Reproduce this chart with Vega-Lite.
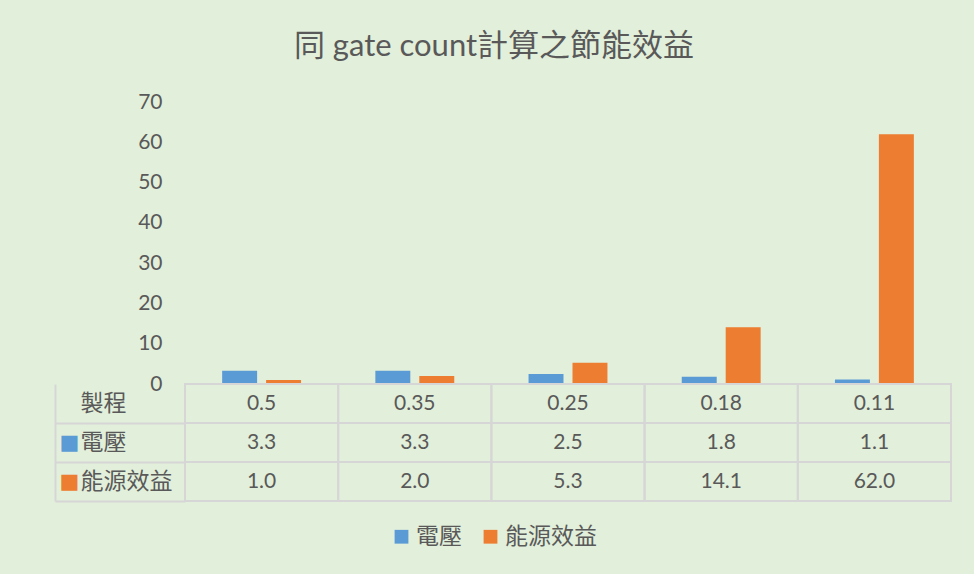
{
  "$schema": "https://vega.github.io/schema/vega-lite/v6.json",
  "background": "#E2EFDA",
  "padding": {"left": 54, "top": 31, "right": 22, "bottom": 26},
  "title": {
    "text": "同 gate count計算之節能效益",
    "font": "Lato, Noto Sans CJK TC",
    "fontSize": 31,
    "fontWeight": "normal",
    "color": "#595959",
    "anchor": "middle",
    "frame": "bounds",
    "offset": 28,
    "dx": -9
  },
  "datasets": {
    "t": [
      {"製程": "0.5", "系列": "電壓", "值": 3.3},
      {"製程": "0.5", "系列": "能源效益", "值": 1.0},
      {"製程": "0.35", "系列": "電壓", "值": 3.3},
      {"製程": "0.35", "系列": "能源效益", "值": 2.0},
      {"製程": "0.25", "系列": "電壓", "值": 2.5},
      {"製程": "0.25", "系列": "能源效益", "值": 5.3},
      {"製程": "0.18", "系列": "電壓", "值": 1.8},
      {"製程": "0.18", "系列": "能源效益", "值": 14.1},
      {"製程": "0.11", "系列": "電壓", "值": 1.1},
      {"製程": "0.11", "系列": "能源效益", "值": 62.0}
    ]
  },
  "data": {"name": "t"},
  "spacing": 0,
  "bounds": "flush",
  "vconcat": [
    {
      "width": 766,
      "height": 282,
      "mark": {"type": "bar"},
      "encoding": {
        "x": {
          "field": "製程",
          "type": "nominal",
          "scale": {"domain": ["0.5", "0.35", "0.25", "0.18", "0.11"], "paddingInner": 0.485, "paddingOuter": 0.2425},
          "axis": null
        },
        "xOffset": {
          "field": "系列",
          "type": "nominal",
          "scale": {"domain": ["電壓", "能源效益"], "paddingInner": 0.2045, "paddingOuter": 0}
        },
        "y": {
          "field": "值",
          "type": "quantitative",
          "scale": {"domain": [0, 70], "nice": false},
          "axis": {
            "values": [0, 10, 20, 30, 40, 50, 60, 70],
            "title": null,
            "domain": false,
            "ticks": false,
            "grid": false,
            "labelPadding": 23,
            "labelFont": "Lato",
            "labelFontSize": 21,
            "labelColor": "#595959"
          }
        },
        "color": {
          "field": "系列",
          "type": "nominal",
          "scale": {"domain": ["電壓", "能源效益"], "range": ["#5B9BD5", "#ED7D31"]},
          "legend": {
            "orient": "none",
            "legendX": 205,
            "legendY": 423,
            "direction": "horizontal",
            "title": null,
            "symbolType": "square",
            "symbolSize": 190,
            "symbolStrokeWidth": 0,
            "labelFont": "Noto Sans CJK TC",
            "labelFontSize": 23,
            "labelColor": "#595959",
            "labelOffset": 3,
            "columnPadding": 17
          }
        }
      }
    },
    {
      "width": 766,
      "height": 117,
      "resolve": {"scale": {"y": "independent"}},
      "encoding": {
        "x": {
          "field": "製程",
          "type": "nominal",
          "scale": {"domain": ["0.5", "0.35", "0.25", "0.18", "0.11"], "paddingInner": 0, "paddingOuter": 0},
          "axis": null
        }
      },
      "layer": [
        {
          "mark": {"type": "rect", "fillOpacity": 0, "stroke": "#D6D6D6", "strokeWidth": 2},
          "encoding": {
            "y": {
              "field": "系列",
              "type": "nominal",
              "scale": {"domain": ["製程", "電壓", "能源效益"], "paddingInner": 0, "paddingOuter": 0},
              "axis": {
                "orient": "left",
                "offset": 130,
                "title": null,
                "labels": false,
                "domain": true,
                "domainColor": "#D6D6D6",
                "domainWidth": 2,
                "ticks": true,
                "tickSize": -130,
                "tickColor": "#D6D6D6",
                "tickWidth": 2,
                "bandPosition": 1
              }
            }
          }
        },
        {
          "transform": [{"filter": "datum['系列'] === '電壓'"}],
          "mark": {"type": "rect", "fillOpacity": 0, "stroke": "#D6D6D6", "strokeWidth": 2},
          "encoding": {
            "y": {
              "datum": "製程",
              "type": "nominal",
              "scale": {"domain": ["製程", "電壓", "能源效益"], "paddingInner": 0, "paddingOuter": 0},
              "axis": null
            }
          }
        },
        {
          "mark": {"type": "text", "font": "Lato", "fontSize": 21, "color": "#595959", "baseline": "middle"},
          "encoding": {
            "y": {
              "field": "系列",
              "type": "nominal",
              "scale": {"domain": ["製程", "電壓", "能源效益"], "paddingInner": 0, "paddingOuter": 0},
              "axis": {
                "orient": "left",
                "title": null,
                "domain": false,
                "ticks": false,
                "labelAlign": "left",
                "labelPadding": 105,
                "labelFont": "Noto Sans CJK TC",
                "labelFontSize": 23,
                "labelColor": "#595959"
              }
            },
            "text": {"field": "值", "type": "quantitative", "format": ".1f"}
          }
        },
        {
          "transform": [{"filter": "datum['系列'] === '電壓'"}],
          "mark": {"type": "text", "font": "Lato", "fontSize": 21, "color": "#595959", "baseline": "middle"},
          "encoding": {
            "y": {
              "datum": "製程",
              "type": "nominal",
              "scale": {"domain": ["製程", "電壓", "能源效益"], "paddingInner": 0, "paddingOuter": 0},
              "axis": {
                "orient": "left",
                "title": null,
                "domain": false,
                "ticks": false,
                "labelAlign": "left",
                "labelPadding": 126,
                "labelExpr": "datum.value === '製程' ? '' : '■'",
                "labelFont": "DejaVu Sans",
                "labelFontSize": 21,
                "labelColor": {"condition": {"test": "datum.value === '電壓'", "value": "#5B9BD5"}, "value": "#ED7D31"}
              }
            },
            "text": {"field": "製程", "type": "nominal"}
          }
        }
      ]
    }
  ],
  "config": {
    "view": {"stroke": null},
    "axis": {"labelColor": "#595959"}
  }
}
